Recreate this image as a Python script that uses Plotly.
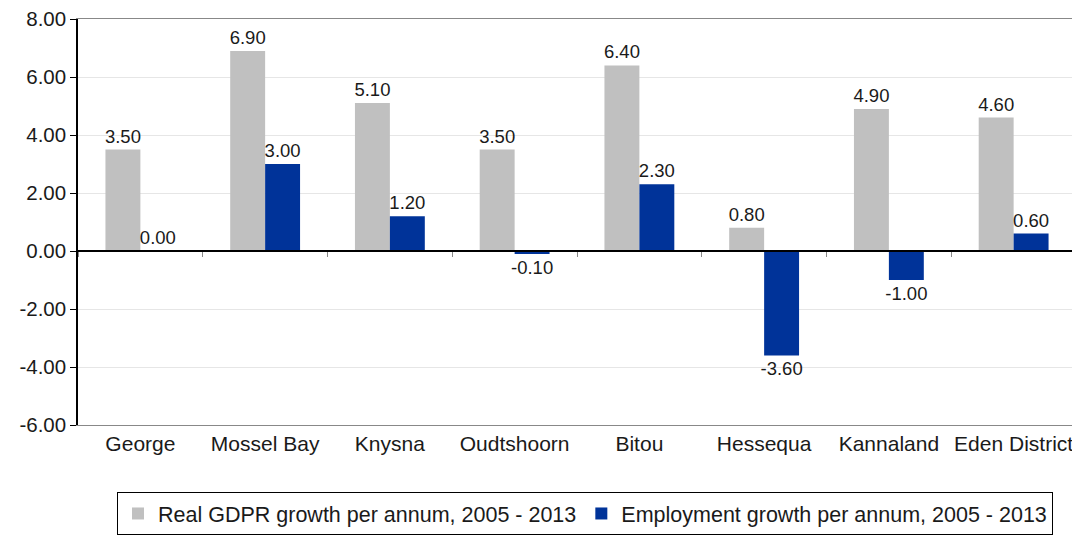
import plotly.graph_objects as go

categories = ["George", "Mossel Bay", "Knysna", "Oudtshoorn", "Bitou", "Hessequa", "Kannaland", "Eden District"]
gdpr_growth = [3.50, 6.90, 5.10, 3.50, 6.40, 0.80, 4.90, 4.60]
employment_growth = [0.00, 3.00, 1.20, -0.10, 2.30, -3.60, -1.00, 0.60]
y_ticks = [-6, -4, -2, 0, 2, 4, 6, 8]

font_family = "Liberation Sans, Arial, sans-serif"
text_color = "#1a1a1a"

fig = go.Figure()
fig.add_trace(
    go.Bar(
        x=categories,
        y=gdpr_growth,
        name="Real GDPR growth per annum, 2005 - 2013",
        marker=dict(color="#c0c0c0", line=dict(width=0)),
        text=[f"{v:.2f}" for v in gdpr_growth],
        textposition="outside",
        constraintext="none",
        textfont=dict(size=18.5, color=text_color),
        cliponaxis=False,
    )
)
fig.add_trace(
    go.Bar(
        x=categories,
        y=employment_growth,
        name="Employment growth per annum, 2005 - 2013",
        marker=dict(color="#003399", line=dict(width=0)),
        text=[f"{v:.2f}" for v in employment_growth],
        textposition="outside",
        constraintext="none",
        textfont=dict(size=18.5, color=text_color),
        cliponaxis=False,
    )
)

# boundary ticks on the zero line
boundaries = [i - 0.5 for i in range(len(categories) + 1)]

# the page body adds an 8px offset, so margins are shifted by that amount
fig.update_layout(
    width=1080,
    height=536,
    margin=dict(l=70, r=12, t=11, b=119),
    barmode="group",
    bargap=0.44,
    bargroupgap=0,
    plot_bgcolor="white",
    paper_bgcolor="white",
    font=dict(family=font_family, size=20, color=text_color),
    showlegend=True,
    legend=dict(
        orientation="h",
        xref="container",
        yref="container",
        x=577 / 1080,
        xanchor="center",
        y=1 - 484 / 536,
        yanchor="top",
        bordercolor="#000000",
        borderwidth=1,
        font=dict(size=21.5, color=text_color),
        traceorder="normal",
        itemwidth=30,
    ),
    xaxis=dict(
        type="category",
        automargin=False,
        showgrid=False,
        showline=True,
        linecolor="#888888",
        linewidth=1,
        mirror=True,
        ticks="",
        tickfont=dict(size=21),
    ),
    xaxis2=dict(
        overlaying="x",
        anchor="free",
        position=6 / 14,
        range=[-0.5, len(categories) - 0.5],
        showline=True,
        linecolor="#000000",
        linewidth=1.5,
        ticks="outside",
        ticklen=5,
        tickcolor="#888888",
        tickvals=boundaries,
        showticklabels=False,
        showgrid=False,
        zeroline=False,
    ),
    yaxis=dict(
        range=[-6, 8],
        automargin=False,
        tickvals=y_ticks,
        ticktext=[f"{v:.2f}" for v in y_ticks],
        ticklabeloverflow="allow",
        showgrid=True,
        gridcolor="#e6e6e6",
        zeroline=False,
        showline=True,
        linecolor="#000000",
        linewidth=1.5,
        ticks="outside",
        ticklen=6,
        tickcolor="#000000",
        tickfont=dict(size=20.5),
    ),
    shapes=[
        dict(type="line", xref="paper", yref="paper", x0=1, x1=1, y0=0, y1=1,
             line=dict(color="#888888", width=1)),
    ],
)

fig.add_trace(go.Scatter(x=[None], y=[None], xaxis="x2", showlegend=False, hoverinfo="skip"))

fig.write_html("out.html")
